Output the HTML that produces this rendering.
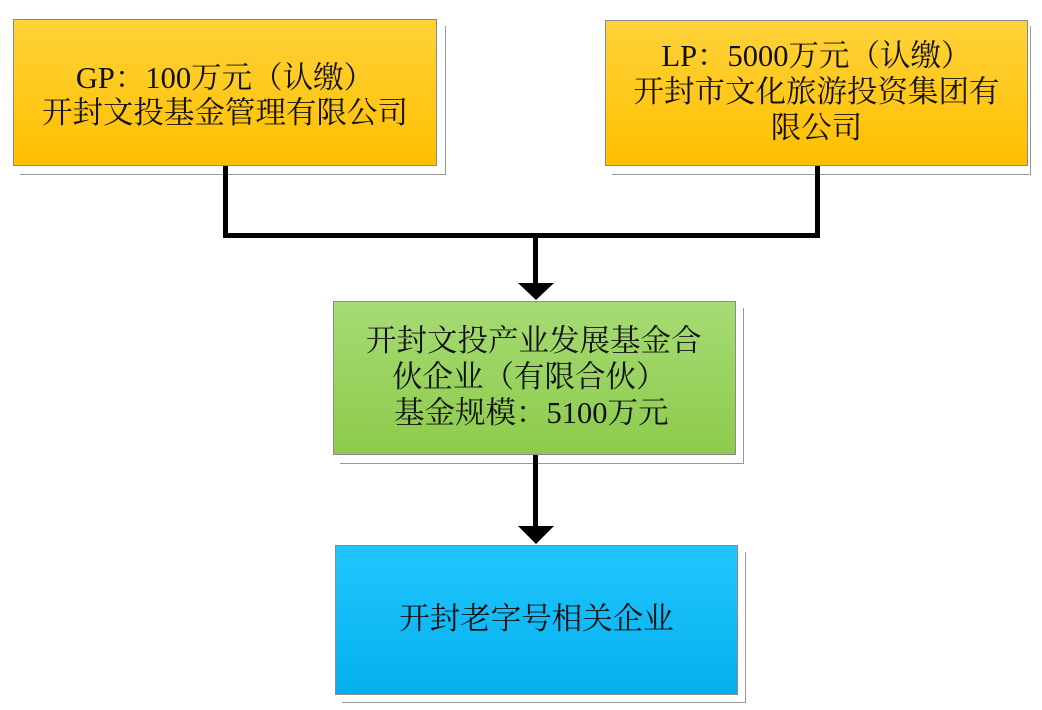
<!DOCTYPE html>
<html><head><meta charset="utf-8"><style>
body{margin:0;width:1042px;height:710px;background:#fff;position:relative;overflow:hidden;font-family:"Liberation Serif","Noto Serif CJK SC","Noto Sans CJK SC",serif;color:#111}
.b{position:absolute;box-sizing:border-box;border:1px solid #8a8a8a;text-align:center;font-size:30.5px;line-height:35px;white-space:nowrap}
.s{position:absolute;border:1px solid #999;border-left:none;border-top:none}
.y{background:linear-gradient(#ffd23a,#ffbf00)}
.g{background:linear-gradient(#a6db74,#8dcb4c)}
.c{background:linear-gradient(#22c6ff,#03b0ec)}
.l{position:absolute;background:#000}
</style></head><body>
<div class="s" style="left:20px;top:26px;width:425px;height:148px"></div>
<div class="b y" style="left:13px;top:19px;width:424px;height:147px;padding-top:41px">GP：100万元（认缴）<br>开封文投基金管理有限公司</div>
<div class="s" style="left:612px;top:26px;width:418px;height:148px"></div>
<div class="b y" style="left:605px;top:20px;width:423px;height:146px;padding-top:17px;line-height:36px">LP：5000万元（认缴）<br>开封市文化旅游投资集团有<br>限公司</div>
<div class="s" style="left:340px;top:308px;width:403px;height:155px"></div>
<div class="b g" style="left:333px;top:301px;width:403px;height:154px;padding-top:21px;text-align:left;padding-left:32px;line-height:36px">开封文投产业发展基金合<br><span style="padding-left:26px">伙企业（有限合伙）</span><br><span style="padding-left:28px">基金规模：5100万元</span></div>
<div class="s" style="left:342px;top:552px;width:403px;height:150px"></div>
<div class="b c" style="left:335px;top:545px;width:403px;height:150px;padding-top:56px">开封老字号相关企业</div>
<div class="l" style="left:223px;top:166px;width:5px;height:72px"></div>
<div class="l" style="left:815px;top:166px;width:5px;height:72px"></div>
<div class="l" style="left:223px;top:233px;width:597px;height:5px"></div>
<div class="l" style="left:533px;top:233px;width:5px;height:52px"></div>
<div class="l" style="left:533px;top:455px;width:5px;height:72px"></div>
<svg style="position:absolute;left:0;top:0" width="1042" height="710">
<polygon points="518,283 554,283 536,300" fill="#000"/>
<polygon points="518,526 554,526 536,544" fill="#000"/>
</svg>
</body></html>
